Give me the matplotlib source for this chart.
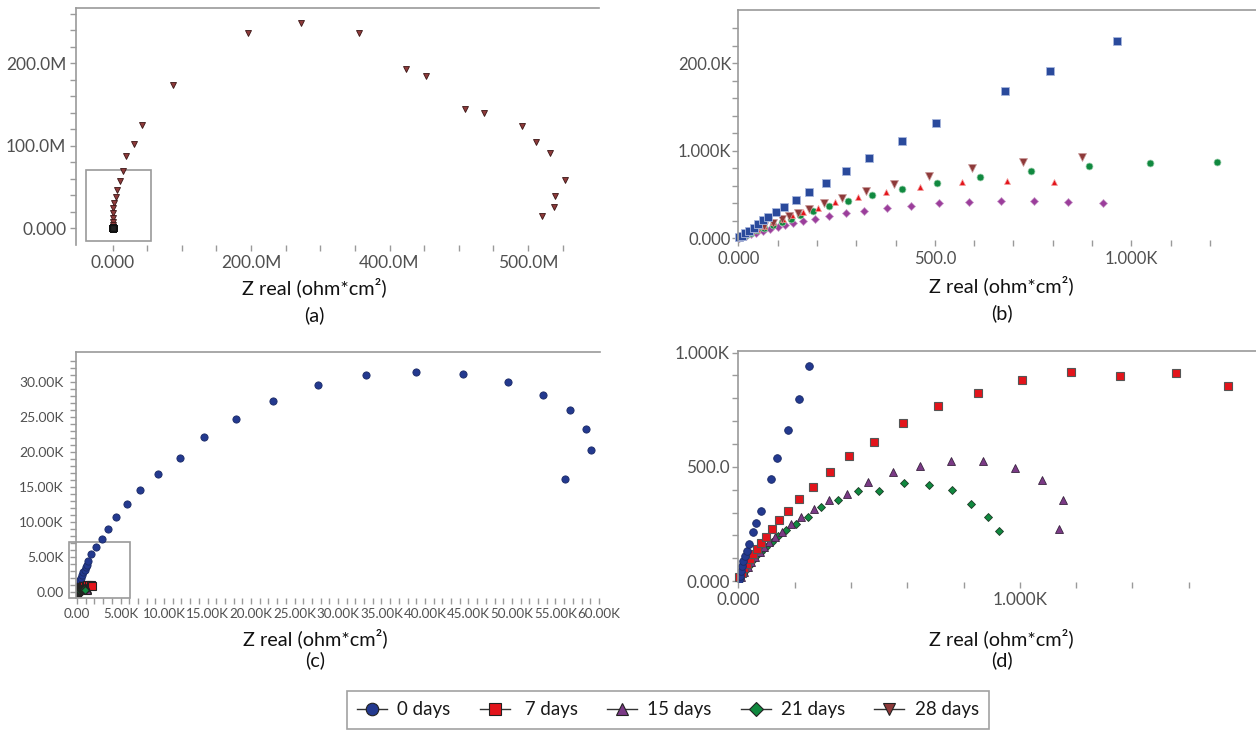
import matplotlib
matplotlib.use("Agg")
import matplotlib.pyplot as plt
from matplotlib.lines import Line2D
from matplotlib.patches import Rectangle
import numpy as np

plt.rcParams['font.family'] = ['Lato', 'DejaVu Sans']

# ---- panel (a): 28 days, values in M ----
a28_x = [620.8, 637.3, 639.6, 653.6, 631.5, 612, 591.5, 536, 509, 452.7, 423.4, 355.5,
         272, 196, 86.7, 42.3, 31.2, 18.8, 15.3, 10.1, 6.6, 4.3, 2.3, 0.9, 0.4, 0.2, 0.1, 0.05, 0.02]
a28_y = [14.9, 26.2, 39.5, 58.2, 91.6, 104.2, 124.4, 140.1, 144.2, 183.8, 192.7, 236,
         249, 236, 172.9, 125.2, 102.2, 87.3, 69.1, 57, 46.4, 37.6, 30.3, 24.2, 18, 12, 8, 4, 1]

# ---- panel (b) ----
b_sq_x = [3, 9, 17, 28, 40, 51, 64, 76, 95, 116, 146, 179, 222, 273, 333, 416, 504, 679, 793, 964]
b_sq_y = [10, 30, 57, 87, 121, 163, 209, 247, 304, 361, 438, 529, 636, 766, 914, 1112, 1314, 1687, 1916, 2252]
b_tri_x = [3, 10, 20, 33, 48, 66, 88, 114, 137, 164, 202, 246, 304, 375, 462, 568, 683, 803]
b_tri_y = [8, 25, 50, 80, 110, 145, 185, 225, 262, 304, 343, 411, 472, 533, 590, 643, 655, 647]
b_circ_x = [3, 10, 20, 33, 48, 66, 88, 112, 135, 157, 189, 231, 280, 341, 416, 506, 615, 745, 892, 1048, 1218]
b_circ_y = [6, 20, 40, 64, 90, 118, 150, 185, 225, 266, 316, 369, 426, 495, 560, 632, 701, 766, 826, 857, 869]
b_down_x = [3, 10, 20, 33, 48, 66, 88, 112, 130, 151, 180, 219, 265, 325, 395, 485, 594, 724, 875]
b_down_y = [8, 25, 50, 80, 110, 145, 180, 220, 255, 293, 339, 400, 464, 544, 621, 712, 800, 876, 933]
b_dia_x = [3, 10, 20, 32, 46, 62, 80, 100, 118, 139, 164, 195, 231, 273, 321, 378, 439, 510, 587, 668, 753, 840, 928]
b_dia_y = [5, 15, 30, 48, 66, 86, 106, 128, 150, 172, 198, 221, 255, 286, 316, 343, 373, 400, 411, 423, 423, 415, 403]

# ---- panels (c) and (d): 0, 7, 15, 21 days ----
d0_x = [2, 5, 8.5, 13, 18, 24, 30, 38, 52, 63, 79.5, 115, 136, 176.5, 214.5, 251, 300, 380, 480, 580,
        730, 880, 1030, 1180, 1300, 1640, 2150, 2830, 3550, 4510, 5740, 7290, 9330, 11790, 14610,
        18250, 22480, 27670, 33220, 38910, 44410, 49510, 53520, 56660, 58520, 59070, 56110]
d0_y = [5, 23, 44, 66, 88, 111, 133, 162, 216, 255, 308, 446, 537, 661, 796, 942, 1300, 1670, 2030, 2390,
        2750, 3100, 3480, 3810, 4430, 5390, 6390, 7570, 9000, 10700, 12500, 14500, 16800, 19100, 22100,
        24700, 27200, 29500, 30900, 31400, 31100, 29900, 28100, 25900, 23240, 20240, 16100]
d7_x = [4, 12, 20, 30, 40.5, 52, 65, 81, 98, 120, 145, 178, 217, 264, 325, 394, 481, 584, 710.5,
        850, 1008, 1182, 1357, 1555, 1738]
d7_y = [16, 36, 56, 76, 96, 117, 140, 165, 194, 228, 266, 308, 357, 411, 477, 547, 608, 691, 766,
        821, 880, 913, 899, 910, 853]
d15_x = [9, 20, 33, 46, 60, 76, 92, 110, 130, 155, 186, 221.5, 268, 323, 386, 462, 549.5, 646.5,
         757, 869, 982, 1079, 1153, 1139]
d15_y = [18, 40, 62, 83, 104, 126, 148, 170, 191, 216, 248, 281, 316, 353, 382, 432, 478, 505,
         525, 525, 496, 441, 353, 229]
d21_x = [7, 16, 26, 37, 50, 64, 80, 98, 118, 140, 168, 206, 246.5, 295, 354, 425, 499, 590, 676,
         760, 825.5, 886, 926]
d21_y = [14, 32, 50, 68, 88, 108, 128, 150, 172, 196, 223, 251, 281, 322, 356, 393, 395, 428, 419,
         397, 337, 280, 217.5]

legend_labels = ['0 days', ' 7 days', '15 days', '21 days', '28 days']

BLUE = '#23398f'
RED = '#e3141b'
PURPLE = '#7b3a86'
GREEN = '#10893f'
BROWN = '#8e3a3a'
GRID = '#9a9a9a'
TXT = '#505050'

W, H = 1256, 732
fig = plt.figure(figsize=(W / 100, H / 100), dpi=100)


def px_axes(l, t, r, b):
    return fig.add_axes([l / W, 1 - b / H, (r - l) / W, (b - t) / H])


def style(ax, size, ypad=3, xpad=3):
    ax.spines['right'].set_visible(False)
    ax.spines['bottom'].set_visible(False)
    for s in ('left', 'top'):
        ax.spines[s].set_color(GRID)
        ax.spines[s].set_linewidth(1.2)
    ax.tick_params(which='both', direction='out', length=4, width=1, color=GRID,
                   labelcolor=TXT, labelsize=size)
    ax.tick_params(axis='y', pad=ypad)
    ax.tick_params(axis='x', pad=xpad)
    ax.patch.set_alpha(0)


def label(x, y_axis, y_tag, tag):
    fig.text(x / W, 1 - y_axis / H, 'Z real (ohm*cm²)', ha='center', va='center',
             fontsize=14.3, color='#111111')
    fig.text(x / W, 1 - y_tag / H, tag, ha='center', va='center', fontsize=14.3, color='#111111')


# ---------------- (a) ----------------
ax = px_axes(76, 8, 599, 245)
style(ax, 12.5)
ax.plot(a28_x, a28_y, ls='none', marker='v', ms=5, mfc=BROWN, mec='#3a1515', mew=0.6)
for xs, ys in [(b_sq_x, b_sq_y), (b_circ_x, b_circ_y), (b_dia_x, b_dia_y)]:
    ax.plot(np.array(xs) / 1e6, np.array(ys) / 1e6, ls='none', marker='s', ms=5,
            mfc='#222', mec='#111')
ax.set_xlim(-53, 702.7)
ax.set_ylim(-20.2, 266.7)
ax.set_xticks([0, 200, 400, 600], ['0.000', '200.0M', '400.0M', '500.0M'])
ax.set_xticks(np.arange(0, 651, 50), minor=True)
ax.set_yticks([0, 100, 200], ['0.000', '100.0M', '200.0M'])
ax.set_yticks(np.arange(0, 261, 20), minor=True)
ax.add_patch(Rectangle((-38.6, -15), 93.5, 85.3, fill=False, ec=GRID, lw=1.2, clip_on=False))
label(314, 287, 315, '(a)')

# ---------------- (b) ----------------
ax = px_axes(738.3, 10, 1256, 239.5)
style(ax, 12, ypad=1, xpad=4)
ax.plot(b_dia_x, b_dia_y, ls='none', marker='D', ms=3.6, mfc='#9b3d9b', mec='#c89ac8', mew=0.5, clip_on=False)
ax.plot(b_circ_x, b_circ_y, ls='none', marker='o', ms=5, mfc=GREEN, mec='#9fd0b0', mew=0.5, clip_on=False)
ax.plot(b_tri_x, b_tri_y, ls='none', marker='^', ms=5, mfc=RED, mec='#f3a0a0', mew=0.5, clip_on=False)
ax.plot(b_down_x, b_down_y, ls='none', marker='v', ms=5.5, mfc=BROWN, mec='#c99a9a', mew=0.5, clip_on=False)
ax.plot(b_sq_x, b_sq_y, ls='none', marker='s', ms=5.3, mfc='#2a4a9c', mec='#a8b6dc', mew=0.6, clip_on=False)
ax.set_xlim(0, 1317)
ax.set_ylim(-14, 2609)
ax.set_xticks([0, 500, 1000], ['0.000', '500.0', '1.000K'])
ax.set_xticks(np.arange(0, 1201, 100), minor=True)
ax.set_yticks([0, 1000, 2000], ['0.000', '1.000K', '200.0K'])
ax.set_yticks(np.arange(0, 2401, 200), minor=True)
label(1001.5, 285, 313, '(b)')

# ---------------- (c) ----------------
ax = px_axes(76, 352.3, 600, 598.3)
style(ax, 10, ypad=5, xpad=3)
ax.tick_params(axis='x', labelsize=9.6)
ax.plot(d0_x, d0_y, ls='none', marker='o', ms=5.2, mfc=BLUE, mec='#1a2a66', mew=0.6)
ax.plot(d7_x, d7_y, ls='none', marker='s', ms=5.5, mfc=RED, mec='#222', mew=0.8)
ax.plot(d15_x, d15_y, ls='none', marker='^', ms=5.5, mfc=PURPLE, mec='#222', mew=0.8)
ax.plot(d21_x, d21_y, ls='none', marker='D', ms=4.5, mfc=GREEN, mec='#222', mew=0.8)
ax.set_xlim(-115, 60115)
ax.set_ylim(-940, 34200)
ax.set_xticks(np.arange(0, 60001, 5000),
              ['0.00'] + ['%.2fK' % (v / 1000) for v in range(5000, 60001, 5000)])
ax.set_xticks(np.arange(0, 60001, 1000), minor=True)
ax.set_yticks(np.arange(0, 30001, 5000),
              ['0.00'] + ['%.2fK' % (v / 1000) for v in range(5000, 30001, 5000)])
ax.set_yticks(np.arange(0, 33001, 1000), minor=True)
ax.add_patch(Rectangle((-920, -940), 7010, 8080, fill=False, ec=GRID, lw=1.2, clip_on=False))
label(315, 638, 660, '(c)')

# ---------------- (d) ----------------
ax = px_axes(738.3, 350.7, 1256, 582)
style(ax, 12.3, ypad=2, xpad=3)
ax.plot(d21_x, d21_y, ls='none', marker='D', ms=4.2, mfc=GREEN, mec='#1d3a26', mew=0.6, clip_on=False)
ax.plot(d15_x, d15_y, ls='none', marker='^', ms=6, mfc=PURPLE, mec='#3a2440', mew=0.6, clip_on=False)
ax.plot(d7_x, d7_y, ls='none', marker='s', ms=5.8, mfc=RED, mec='#555', mew=0.8, clip_on=False)
ax.plot(d0_x, d0_y, ls='none', marker='o', ms=5.5, mfc=BLUE, mec='#1a2a66', mew=0.6)
ax.set_xlim(0, 1839)
ax.set_ylim(-4, 1008)
ax.set_xticks([0, 1000], ['0.000', '1.000K'])
ax.set_xticks(np.arange(0, 1601, 200), minor=True)
ax.set_yticks([0, 500, 1000], ['0.000', '500.0', '1.000K'])
ax.set_yticks(np.arange(0, 1001, 100), minor=True)
label(1001.7, 638, 660, '(d)')

# ---------------- legend ----------------
specs = [('o', BLUE), ('s', RED), ('^', PURPLE), ('D', GREEN), ('v', BROWN)]
handles = [Line2D([], [], color='#333', lw=1, marker=m, ms=9 if m != 'D' else 7.5,
                  mfc=c, mec='#222', mew=0.8) for m, c in specs]
leg = fig.legend(handles, legend_labels, loc='center', bbox_to_anchor=(668 / W, 1 - 710 / H),
                 ncol=5, frameon=True, fancybox=False, edgecolor='#8a8a8a', fontsize=13.5,
                 handlelength=1.6, columnspacing=1.55, handletextpad=0.55, borderpad=0.55)
leg.get_frame().set_linewidth(1.2)
for t in leg.get_texts():
    t.set_color('#1a1a1a')

fig.savefig('out.png', dpi=100)
